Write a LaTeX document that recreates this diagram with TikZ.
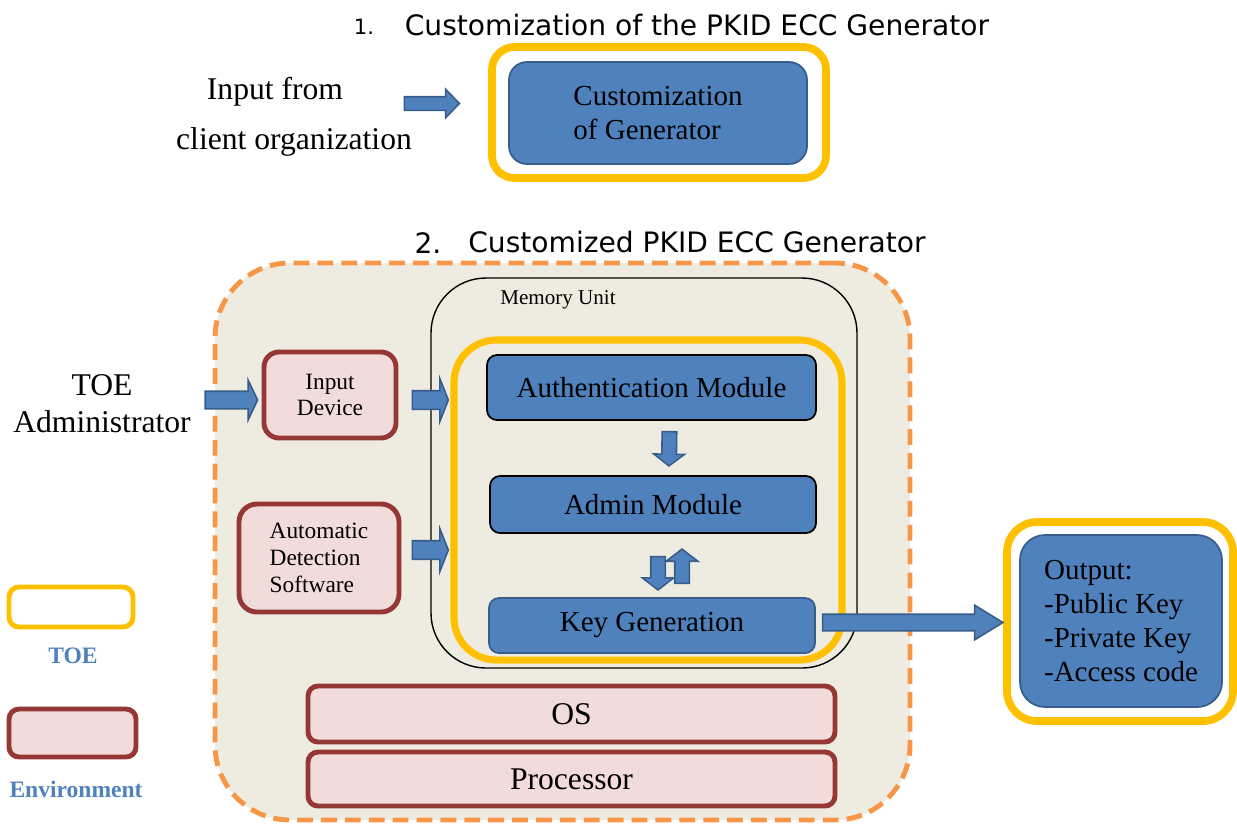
\documentclass[tikz,border=0pt]{standalone}
\usepackage{fontspec}
\setmainfont{Liberation Serif}
\newfontfamily\titlefont{DejaVu Sans}
\usetikzlibrary{shapes.arrows,calc,positioning}

\definecolor{toeyellow}{HTML}{FFC000}
\definecolor{boxblue}{HTML}{4F81BD}
\definecolor{boxline}{HTML}{385D8A}
\definecolor{envorange}{HTML}{F79646}
\definecolor{envfill}{HTML}{EEECE1}
\definecolor{envpink}{HTML}{F2DCDB}
\definecolor{envred}{HTML}{953735}

\tikzset{
  boxsize/.style 2 args={minimum width=#1*0.02cm,minimum height=#2*0.02cm},
  toebox/.style={draw=toeyellow,line width=4.4pt,rounded corners=#1,inner sep=0pt},
  toebox/.default=0.4cm,
  bluebox/.style={draw=boxline,fill=boxblue,line width=1pt,rounded corners=#1,inner sep=0pt},
  bluebox/.default=0.2cm,
  envbox/.style={draw=envred,fill=envpink,line width=2.8pt,rounded corners=#1,inner sep=0pt},
  envbox/.default=0.3cm,
  fat/.style={single arrow,draw=boxline,fill=boxblue,line width=0.9pt,inner xsep=0pt,
    sloped,allow upside down},
  titletxt/.style={font=\titlefont\fontsize{16}{19}\selectfont},
  bigtxt/.style={font=\fontsize{16.5}{19.3}\selectfont},
  midtxt/.style={font=\fontsize{18}{21}\selectfont},
  smalltxt/.style={font=\fontsize{13.3}{15.3}\selectfont},
  legtxt/.style={font=\fontsize{13.4}{15}\selectfont\bfseries,text=boxblue}
}

% block arrow between two named points
\newcommand\blockarrow[3][]{%
  \path let \p1=($(#3)-(#2)$), \n1={veclen(\x1,\y1)} in
    (#2) -- node[fat,minimum height=\n1,#1]{} (#3);}

\begin{document}
\begin{tikzpicture}[x=0.02cm,y=-0.02cm]
\useasboundingbox (0,0) rectangle (1237,823);

% 1. customization
\node[titletxt] (title1) at (697,25) {Customization of the PKID ECC Generator};
\node[font=\titlefont\fontsize{12}{14}\selectfont] (num1) at (364,27) {1.};
\node[midtxt] (inp1) at (275,92) {Input from};
\node[midtxt] (inp2) at (294,142) {client organization};
\node[toebox=0.45cm,boxsize={334}{131}] (toe1) at (659,112.5) {};
\node[bluebox=0.36cm,boxsize={298}{102},bigtxt,align=left] (custgen) at (658,113)
  {Customization\\of Generator};

% 2. customized generator
\node[titletxt] (title2) at (697,242) {Customized PKID ECC Generator};
\node[titletxt] (num2) at (428,243) {2.};
\node[draw=envorange,fill=envfill,line width=2.8pt,dash pattern=on 9pt off 4.6pt,
  rounded corners=1.5cm,inner sep=0pt,boxsize={695}{557}] (envarea) at (562.5,541.5) {};
\node[draw=black,line width=0.8pt,rounded corners=1.1cm,inner sep=0pt,
  boxsize={426}{390}] (mem) at (644,473) {};
\node[font=\fontsize{12}{14}\selectfont] (memlbl) at (558,300) {Memory Unit};
\node[toebox=0.85cm,line width=4pt,boxsize={388}{320}] (toe2) at (648,500) {};
\node[bluebox,draw=black,boxsize={329}{65},bigtxt] (auth) at (651.5,387.5) {Authentication Module};
\node[bluebox,draw=black,boxsize={326}{57},bigtxt] (admin) at (653,504.5) {Admin Module};
\node[bluebox,boxsize={326}{55},bigtxt] (keygen) at (652,625.5) {Key Generation};
\node[envbox=0.2cm,boxsize={527}{56},midtxt] (os) at (571.5,714) {OS};
\node[envbox=0.2cm,boxsize={527}{54},midtxt] (proc) at (571.5,779) {Processor};
\node[envbox,boxsize={132}{86},smalltxt,align=center] (indev) at (330,395) {Input\\Device};
\node[envbox=0.36cm,boxsize={160}{108},smalltxt,align=left] (autodet) at (319,558)
  {Automatic\\Detection\\Software};
\node[midtxt,align=center] (toeadm) at (102,404) {TOE\\Administrator};

% output
\node[toebox=0.6cm,boxsize={226}{199}] (toe3) at (1120,621.5) {};
\node[bluebox=0.5cm,boxsize={202}{172},bigtxt,align=left] (outbox) at (1121,621)
  {Output:\\-Public Key\\-Private Key\\-Access code};

% legend
\node[toebox=0.2cm,line width=2.8pt,boxsize={124}{40}] (legtoe) at (71,607) {};
\node[legtxt] (legtoetxt) at (73,656) {TOE};
\node[envbox=0.2cm,boxsize={127}{48}] (legenv) at (72.5,733) {};
\node[legtxt] (legenvtxt) at (76,789) {Environment};

% arrows
\coordinate (a0s) at ($(toe1.west)+(-87,-9)$);
\coordinate (a0e) at ($(toe1.west)+(-32,-9)$);
\coordinate (a1s) at (203,400);
\coordinate (a1e) at ($(indev.west)+(-6,5)$);
\coordinate (a2s) at ($(indev.east)+(12,5)$);
\coordinate (a2e) at ($(toe2.west |- a2s)+(-4,0)$);
\coordinate (a3s) at ($(autodet.east)+(9,-8)$);
\coordinate (a3e) at ($(toe2.west |- a3s)+(-4,0)$);
\coordinate (a4s) at ($(auth.south)+(18,8)$);
\coordinate (a4e) at ($(admin.north)+(16,-12)$);
\coordinate (a5s) at ($(admin.south)+(5,20)$);
\coordinate (a5e) at ($(keygen.north)+(6,-10)$);
\coordinate (a6s) at ($(keygen.north)+(30,-11)$);
\coordinate (a6e) at ($(admin.south)+(29,18)$);
\coordinate (a7s) at ($(keygen.east)+(0,-3)$);
\coordinate (a7e) at ($(toe3.west |- a7s)+(-7,0)$);

\blockarrow[inner ysep=0.12cm,single arrow head extend=0.15cm,single arrow tip angle=92]{a0s}{a0e}
\blockarrow[inner ysep=0.16cm,single arrow head extend=0.22cm,single arrow tip angle=129]{a1s}{a1e}
\blockarrow[inner ysep=0.17cm,single arrow head extend=0.24cm,single arrow tip angle=137]{a2s}{a2e}
\blockarrow[inner ysep=0.17cm,single arrow head extend=0.24cm,single arrow tip angle=137]{a3s}{a3e}
\blockarrow[inner ysep=0.13cm,single arrow head extend=0.16cm,single arrow tip angle=105]{a4s}{a4e}
\blockarrow[inner ysep=0.13cm,single arrow head extend=0.17cm,single arrow tip angle=105]{a5s}{a5e}
\blockarrow[inner ysep=0.13cm,single arrow head extend=0.17cm,single arrow tip angle=105]{a6s}{a6e}
\blockarrow[inner ysep=0.15cm,single arrow head extend=0.18cm,single arrow tip angle=63]{a7s}{a7e}
\end{tikzpicture}
\end{document}
